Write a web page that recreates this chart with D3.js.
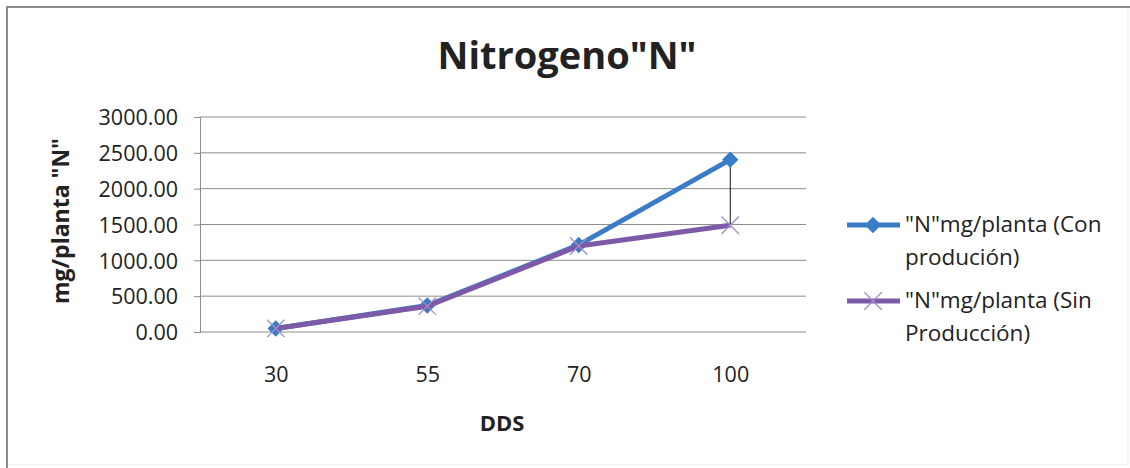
<!DOCTYPE html>
<html>
<head>
<meta charset="utf-8">
<script src="https://cdn.jsdelivr.net/npm/d3@7"></script>
<style>
  html, body { margin: 0; padding: 0; background: #fff; }
  svg text { font-family: "Open Sans", sans-serif; fill: #222; }
</style>
</head>
<body>
<svg id="chart" width="1130" height="468"></svg>
<script>
// Days after sowing (DDS) categories
const categories = ["30", "55", "70", "100"];
// Nitrogen uptake, mg per plant
const conProduccion = [50, 370, 1215, 2405];
const sinProduccion = [50, 360, 1200, 1490];
const yTicks = [0, 500, 1000, 1500, 2000, 2500, 3000];

const svg = d3.select("#chart");
const FONT = "'Open Sans', sans-serif";

// chart frame
svg.append("line").attr("x1", 6).attr("x2", 1130).attr("y1", 7).attr("y2", 7)
  .attr("stroke", "#8a8a8a").attr("stroke-width", 2);
svg.append("line").attr("x1", 7).attr("x2", 7).attr("y1", 6).attr("y2", 468)
  .attr("stroke", "#8a8a8a").attr("stroke-width", 2);
svg.append("line").attr("x1", 1128).attr("x2", 1128).attr("y1", 8).attr("y2", 466)
  .attr("stroke", "#ececec").attr("stroke-width", 1);
svg.append("line").attr("x1", 8).attr("x2", 1128).attr("y1", 465).attr("y2", 465)
  .attr("stroke", "#ececec").attr("stroke-width", 1);

const plot = { left: 200, right: 806, top: 117, bottom: 332 };

const x = d3.scalePoint().domain(categories)
  .range([plot.left, plot.right]).padding(0.5);
const y = d3.scaleLinear().domain([0, 3000]).range([plot.bottom, plot.top]);

// gridlines
svg.append("g").selectAll("line").data(yTicks.filter(d => d > 0)).join("line")
  .attr("x1", plot.left).attr("x2", plot.right)
  .attr("y1", d => y(d)).attr("y2", d => y(d))
  .attr("stroke", "#8c8c8c").attr("stroke-width", 1);

// y axis
const yAxis = svg.append("g").attr("transform", `translate(${plot.left},0)`)
  .call(d3.axisLeft(y).tickValues(yTicks).tickFormat(d3.format(".2f")).tickSize(6).tickPadding(16));
yAxis.select(".domain").attr("stroke", "#8c8c8c");
yAxis.selectAll(".tick line").attr("stroke", "#8c8c8c");
yAxis.selectAll("text").attr("font-size", 21.5).attr("fill", "#222").attr("font-family", FONT)
  .attr("dy", "0.36em");

// x axis
const xAxis = svg.append("g").attr("transform", `translate(0,${plot.bottom})`)
  .call(d3.axisBottom(x).tickSize(0).tickPadding(0));
xAxis.select(".domain").attr("stroke", "#8c8c8c").attr("d", `M${plot.left},0H${plot.right}`);
xAxis.selectAll("text").attr("font-size", 21.5).attr("fill", "#222").attr("font-family", FONT)
  .attr("dy", null).attr("y", 50);

// high-low lines between the two series
svg.append("g").selectAll("line").data(categories).join("line")
  .attr("x1", d => x(d)).attr("x2", d => x(d))
  .attr("y1", (d, i) => y(Math.max(conProduccion[i], sinProduccion[i])))
  .attr("y2", (d, i) => y(Math.min(conProduccion[i], sinProduccion[i])))
  .attr("stroke", "#111").attr("stroke-width", 1);

const line = d3.line().x((d, i) => x(categories[i])).y(d => y(d));
const blue = "#3a7dc6", purple = "#7d5aa8", xColor = "#a08ccc";

// markers: square turned 45 degrees, and a thin cross
const diamond = d3.symbol().type(d3.symbolSquare).size(135);
const cross = d3.symbol().type(d3.symbolX).size(200);

// series: Con producción
svg.append("path").datum(conProduccion).attr("d", line)
  .attr("fill", "none").attr("stroke", blue).attr("stroke-width", 5).attr("stroke-linejoin", "round");
svg.append("g").selectAll("path").data(conProduccion).join("path")
  .attr("transform", (d, i) => `translate(${x(categories[i])},${y(d)}) rotate(45)`)
  .attr("d", diamond).attr("fill", blue);

// series: Sin producción
svg.append("path").datum(sinProduccion).attr("d", line)
  .attr("fill", "none").attr("stroke", purple).attr("stroke-width", 5).attr("stroke-linejoin", "round");
svg.append("g").selectAll("path").data(sinProduccion).join("path")
  .attr("transform", (d, i) => `translate(${x(categories[i])},${y(d)})`)
  .attr("d", cross).attr("fill", "none").attr("stroke", xColor).attr("stroke-width", 1.3);

// title
svg.append("text").attr("x", 567).attr("y", 69).attr("text-anchor", "middle")
  .attr("font-size", 38).attr("font-weight", "bold").attr("fill", "#000")
  .text("Nitrogeno\"N\"");

// axis titles
svg.append("text").attr("transform", `translate(69,221) rotate(-90)`)
  .attr("text-anchor", "middle").attr("font-size", 23).attr("font-weight", "bold").attr("fill", "#000")
  .text("mg/planta \"N\"");
svg.append("text").attr("x", 502).attr("y", 431).attr("text-anchor", "middle")
  .attr("font-size", 22).attr("font-weight", "bold").attr("fill", "#000")
  .text("DDS");

// legend
const legend = [
  { color: blue, marker: "diamond", lines: ["\"N\"mg/planta (Con", "produción)"], y: 225 },
  { color: purple, marker: "x", lines: ["\"N\"mg/planta (Sin", "Producción)"], y: 301 }
];
legend.forEach(L => {
  const g = svg.append("g");
  g.append("line").attr("x1", 847).attr("x2", 900).attr("y1", L.y).attr("y2", L.y)
    .attr("stroke", L.color).attr("stroke-width", 5);
  if (L.marker === "diamond") {
    g.append("path").attr("transform", `translate(873,${L.y}) rotate(45)`).attr("d", diamond).attr("fill", blue);
  } else {
    g.append("path").attr("transform", `translate(873,${L.y})`).attr("d", cross)
      .attr("fill", "none").attr("stroke", xColor).attr("stroke-width", 1.3);
  }
  L.lines.forEach((t, j) => {
    g.append("text").attr("x", 905).attr("y", L.y + 7 + j * 33)
      .attr("font-size", 22.5).attr("fill", "#222").text(t);
  });
});
</script>
</body>
</html>
